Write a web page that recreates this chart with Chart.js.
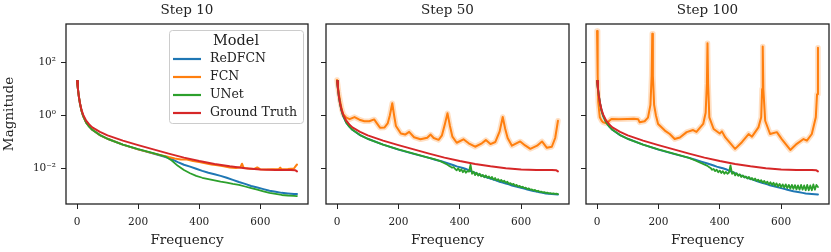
<!DOCTYPE html>
<html>
<head>
<meta charset="utf-8">
<script src="https://cdn.jsdelivr.net/npm/chart.js@4.4.0/dist/chart.umd.min.js"></script>
<style>
  body { margin: 0; background: #fff; }
  #wrap { position: relative; width: 831px; height: 252px; }
  canvas { position: absolute; top: 0; }
</style>
</head>
<body>
<div id="wrap">
  <canvas id="c10" width="310" height="252" style="left:0px"></canvas>
  <canvas id="c50" width="260" height="252" style="left:310px"></canvas>
  <canvas id="c100" width="261" height="252" style="left:570px"></canvas>
</div>
<script>
// values are log10(magnitude)

var models = ['ReDFCN', 'FCN', 'UNet', 'Ground Truth'];
var colors = ['#1f77b4', '#ff7f0e', '#2ca02c', '#d62728'];
var steps = ['Step 10', 'Step 50', 'Step 100'];
var xTicks = [0, 200, 400, 600];
var yTicks = [1e-2, 1, 1e2];
var yTickLabels = ['10\u207B\u00B2', '10\u2070', '10\u00B2'];

// ground truth, same in every panel
var gtFreq = [0, 3, 6, 10, 15, 20, 30, 40, 50, 75, 100, 150, 200, 250, 300, 350, 400, 450, 500, 550, 600, 650, 700, 715, 720];
var gtLog = [1.3, 1.0, 0.72, 0.45, 0.2, 0.03, -0.2, -0.34, -0.45, -0.62, -0.75, -0.95, -1.12, -1.28, -1.44, -1.59, -1.72, -1.83, -1.92, -1.99, -2.04, -2.06, -2.06, -2.07, -2.11];

// step 10
var freq10 = [0, 3, 6, 10, 15, 20, 30, 40, 50, 75, 100, 150, 200, 250, 290, 310, 330, 350, 370, 390, 410, 430, 450, 470, 490, 510, 530, 550, 570, 590, 610, 630, 650, 670, 690, 710, 720];
var redfcn10 = [1.3, 1.0, 0.72, 0.43, 0.17, -0.02, -0.27, -0.42, -0.54, -0.74, -0.88, -1.1, -1.28, -1.44, -1.57, -1.65, -1.76, -1.86, -1.93, -2.01, -2.09, -2.16, -2.22, -2.28, -2.35, -2.43, -2.51, -2.58, -2.66, -2.72, -2.78, -2.84, -2.88, -2.92, -2.94, -2.96, -2.96];
var unet10 = [1.3, 1.0, 0.72, 0.43, 0.17, -0.02, -0.27, -0.42, -0.54, -0.74, -0.88, -1.1, -1.27, -1.42, -1.55, -1.7, -1.9, -2.06, -2.18, -2.28, -2.35, -2.4, -2.45, -2.5, -2.53, -2.58, -2.62, -2.68, -2.74, -2.8, -2.86, -2.92, -2.96, -3.0, -3.02, -3.03, -3.04];
var fcn10Freq = [0, 3, 6, 10, 15, 20, 30, 40, 50, 75, 100, 150, 200, 250, 300, 320, 340, 360, 380, 400, 420, 440, 460, 480, 500, 520, 535, 540, 545, 560, 580, 590, 600, 620, 640, 660, 665, 670, 690, 710, 715, 720];
var fcn10 = [1.3, 1.0, 0.72, 0.43, 0.17, -0.02, -0.27, -0.42, -0.54, -0.74, -0.88, -1.1, -1.28, -1.43, -1.57, -1.62, -1.66, -1.66, -1.72, -1.76, -1.8, -1.85, -1.88, -1.92, -1.96, -1.98, -1.95, -1.82, -1.97, -2.0, -2.02, -1.96, -2.03, -2.04, -2.03, -2.03, -1.97, -2.03, -2.02, -2.0, -1.92, -1.85];

// ReDFCN grid for steps 50 and 100
var freqLate = [0, 3, 6, 10, 15, 20, 30, 40, 50, 75, 100, 150, 200, 250, 300, 320, 340,
  360, 370, 380, 390, 400, 410, 420, 430, 440, 450, 460, 470, 480, 490, 500, 510, 520, 530, 540, 550,
  560, 570, 580, 590, 600, 610, 620, 630, 640, 650, 660, 670, 680, 690, 700, 710, 720];

// UNet is noisy at high frequency, so it gets a finer grid
var freqNoisy = [0, 3, 6, 10, 15, 20, 30, 40, 50, 75, 100, 150, 200, 250, 300, 320, 340,
  360, 365, 370, 375, 380, 385, 390, 395, 400, 405, 410, 415, 420, 425, 430, 435, 440, 445, 450, 455,
  460, 465, 470, 475, 480, 485, 490, 495, 500, 505, 510, 515, 520, 525, 530, 535, 540, 545, 550, 555,
  560, 565, 570, 575, 580, 585, 590, 595, 600, 605, 610, 615, 620, 625, 630, 635, 640, 645, 650, 655,
  660, 665, 670, 675, 680, 685, 690, 695, 700, 705, 710, 715, 720];

// step 50
var redfcn50 = [1.3, 1.0, 0.72, 0.43, 0.17, -0.02, -0.27, -0.42, -0.54, -0.74, -0.88, -1.1, -1.29, -1.45, -1.6, -1.67, -1.73,
  -1.8, -1.84, -1.88, -1.92, -1.95, -1.98, -2.02, -2.07, -2.12, -2.17, -2.22, -2.26, -2.3, -2.34, -2.38, -2.42, -2.46, -2.5, -2.53, -2.57,
  -2.6, -2.64, -2.67, -2.7, -2.73, -2.76, -2.79, -2.82, -2.85, -2.87, -2.9, -2.92, -2.94, -2.95, -2.96, -2.97, -2.98];
var unet50 = [1.3, 1.0, 0.72, 0.43, 0.17, -0.02, -0.27, -0.42, -0.54, -0.74, -0.88, -1.1, -1.28, -1.44, -1.6, -1.66, -1.74,
  -1.86, -1.9, -1.93, -1.97, -1.95, -2.02, -2.07, -1.99, -2.1, -2.03, -2.14, -2.06, -2.16, -2.1, -2.12, -1.86, -2.2, -2.12, -2.25, -2.16,
  -2.27, -2.2, -2.3, -2.24, -2.33, -2.26, -2.35, -2.3, -2.38, -2.32, -2.42, -2.36, -2.45, -2.4, -2.48, -2.43, -2.5, -2.46, -2.54, -2.5,
  -2.58, -2.55, -2.61, -2.58, -2.65, -2.62, -2.68, -2.66, -2.71, -2.69, -2.74, -2.72, -2.78, -2.75, -2.8, -2.79, -2.83, -2.81, -2.86, -2.84,
  -2.88, -2.87, -2.9, -2.89, -2.92, -2.91, -2.94, -2.93, -2.95, -2.94, -2.96, -2.95, -2.97];
var fcn50Freq = [0, 5, 10, 15, 20, 30, 41, 57, 73, 89, 105, 121, 130, 140, 155, 165, 172, 180, 186, 192, 208, 222, 235, 251, 272, 294, 305, 315, 331, 342, 352, 360, 368, 376, 390, 412, 429, 450, 472, 485, 500, 516, 530, 540, 548, 556, 570, 597, 613, 630, 652, 668, 684, 700, 711, 720];
var fcn50 = [1.34, 0.9, 0.55, 0.25, 0.05, -0.08, -0.14, -0.06, -0.16, -0.22, -0.22, -0.15, -0.3, -0.46, -0.45, -0.3, 0.0, 0.46, 0.0, -0.4, -0.68, -0.72, -0.62, -0.82, -0.9, -0.84, -0.72, -0.85, -0.92, -0.75, -0.3, 0.08, -0.4, -0.8, -1.03, -0.9, -1.05, -1.18, -1.05, -0.93, -1.08, -1.0, -0.6, -0.06, -0.5, -0.85, -1.14, -0.98, -1.13, -1.26, -1.14, -0.98, -1.22, -1.18, -0.85, -0.2];

// step 100
var redfcn100 = [1.3, 1.0, 0.72, 0.43, 0.17, -0.02, -0.27, -0.42, -0.54, -0.74, -0.88, -1.1, -1.29, -1.45, -1.6, -1.67, -1.74,
  -1.81, -1.85, -1.89, -1.93, -1.96, -1.99, -2.03, -2.08, -2.13, -2.18, -2.23, -2.27, -2.31, -2.35, -2.39, -2.43, -2.47, -2.51, -2.55, -2.58,
  -2.62, -2.65, -2.68, -2.71, -2.74, -2.77, -2.8, -2.83, -2.86, -2.88, -2.9, -2.92, -2.94, -2.95, -2.96, -2.97, -2.98];
var unet100 = [1.3, 1.0, 0.72, 0.43, 0.17, -0.02, -0.27, -0.42, -0.54, -0.74, -0.88, -1.1, -1.28, -1.44, -1.6, -1.7, -1.8,
  -1.9, -1.95, -1.98, -2.05, -2.02, -2.1, -2.05, -2.14, -2.08, -2.17, -2.1, -2.2, -2.13, -2.2, -2.15, -1.88, -2.2, -2.14, -2.26, -2.18,
  -2.28, -2.22, -2.32, -2.26, -2.34, -2.3, -2.38, -2.32, -2.41, -2.36, -2.44, -2.38, -2.47, -2.42, -2.5, -2.44, -2.53, -2.47, -2.56, -2.5,
  -2.6, -2.52, -2.62, -2.54, -2.65, -2.56, -2.68, -2.58, -2.7, -2.6, -2.72, -2.6, -2.74, -2.62, -2.76, -2.62, -2.77, -2.63, -2.79, -2.64,
  -2.8, -2.62, -2.8, -2.64, -2.82, -2.62, -2.82, -2.64, -2.82, -2.6, -2.8, -2.62, -2.7];
var fcn100Freq = [0, 2, 4, 9, 15, 20, 31, 40, 47, 70, 100, 120, 134, 139, 155, 166, 174, 178, 180, 182, 186, 192, 199, 221, 237, 253, 270, 292, 313, 324, 346, 354, 358, 360, 362, 366, 380, 400, 407, 418, 450, 472, 494, 505, 526, 535, 538, 540, 542, 548, 564, 586, 602, 630, 651, 673, 684, 700, 713, 717, 720];
var fcn100 = [3.19, 1.5, 0.5, -0.07, -0.2, -0.26, -0.3, -0.2, -0.13, -0.14, -0.13, -0.12, -0.14, -0.26, -0.22, -0.08, 0.4, 1.5, 3.08, 1.5, 0.4, 0.0, -0.32, -0.57, -0.7, -0.89, -0.83, -0.63, -0.55, -0.62, -0.32, 0.1, 1.2, 2.72, 1.2, -0.07, -0.51, -0.68, -0.6, -0.83, -1.26, -1.01, -0.7, -0.8, -0.45, -0.07, 1.0, 2.6, 1.0, -0.2, -0.7, -0.63, -0.89, -1.3, -1.07, -0.89, -0.95, -0.7, -0.07, 0.8, 2.55];

var serif = 'DejaVu Serif';
var ink = '#222222';

Chart.defaults.font.family = serif;
Chart.defaults.color = ink;

function toPoints(xs, logs) {
  return xs.map(function (x, i) { return {x: x, y: Math.pow(10, logs[i])}; });
}

function makeDatasets(freq, redfcn, unetFreq, unet, fcnFreq, fcn, band) {
  // lower order is drawn on top: ground truth over UNet over FCN over ReDFCN
  var sets = [
    {label: models[3], data: toPoints(gtFreq, gtLog), borderColor: colors[3], order: 0},
    {label: models[2], data: toPoints(unetFreq, unet), borderColor: colors[2], order: 1, borderWidth: 1.8},
    {label: models[1], data: toPoints(fcnFreq, fcn), borderColor: colors[1], order: 2},
    {label: models[0], data: toPoints(freq, redfcn), borderColor: colors[0], order: 3}
  ];
  if (band) {
    sets.push({label: 'FCN spread', data: toPoints(fcnFreq, fcn), borderColor: 'rgba(255,127,14,0.25)', borderWidth: 5.5, order: 4});
  }
  return sets;
}

// spines all round plus the panel title
var framePlugin = {
  id: 'frame',
  afterDatasetsDraw: function (chart, args, opts) {
    var a = chart.chartArea;
    var ctx = chart.ctx;
    ctx.save();
    ctx.strokeStyle = ink;
    ctx.lineWidth = 1.3;
    ctx.strokeRect(a.left, a.top, a.right - a.left, a.bottom - a.top);
    ctx.fillStyle = ink;
    ctx.font = '13.5px "' + serif + '"';
    ctx.textAlign = 'center';
    ctx.textBaseline = 'middle';
    ctx.fillText(opts.title, (a.left + a.right) / 2, 10);
    ctx.restore();
  }
};

// legend with title, inside the first panel, upper right
var modelLegend = {
  id: 'modelLegend',
  afterDraw: function (chart) {
    var a = chart.chartArea;
    var ctx = chart.ctx;
    var left = a.right - 139, top = a.top + 6;
    ctx.save();
    ctx.fillStyle = 'rgba(255,255,255,0.85)';
    ctx.strokeStyle = '#cccccc';
    ctx.lineWidth = 1;
    ctx.beginPath();
    ctx.roundRect(left + 0.5, top + 0.5, 134, 93, 3);
    ctx.fill();
    ctx.stroke();
    ctx.fillStyle = ink;
    ctx.textBaseline = 'middle';
    ctx.textAlign = 'center';
    ctx.font = '14.5px "' + serif + '"';
    ctx.fillText('Model', left + 67, top + 11);
    ctx.textAlign = 'left';
    ctx.font = '12.5px "' + serif + '"';
    for (var i = 0; i < models.length; i++) {
      var ry = top + 29 + i * 18;
      ctx.strokeStyle = colors[i];
      ctx.lineWidth = 2.2;
      ctx.beginPath();
      ctx.moveTo(left + 4, ry);
      ctx.lineTo(left + 32, ry);
      ctx.stroke();
      ctx.fillText(models[i], left + 41, ry);
    }
    ctx.restore();
  }
};

function makeScales(first) {
  return {
    x: {
      type: 'linear',
      min: -36,
      max: 756,
      afterBuildTicks: function (s) { s.ticks = xTicks.map(function (v) { return {value: v}; }); },
      afterFit: function (s) { s.height = 48; },
      grid: {drawOnChartArea: false, tickLength: 5, color: ink, lineWidth: 1},
      border: {display: false},
      ticks: {font: {size: 10.5}, color: ink, padding: 7, maxRotation: 0},
      title: {display: true, text: 'Frequency', font: {size: 13.5}, color: ink, padding: {top: 0, bottom: 3}}
    },
    y: {
      type: 'logarithmic',
      min: Math.pow(10, -3.34),
      max: Math.pow(10, 3.45),
      afterBuildTicks: function (s) { s.ticks = yTicks.map(function (v) { return {value: v}; }); },
      afterFit: function (s) { s.width = first ? 66 : 16; },
      grid: {drawOnChartArea: false, tickLength: 5, color: ink, lineWidth: 1},
      border: {display: false},
      ticks: {
        display: first,
        font: {size: 10.5},
        color: ink,
        padding: 5,
        callback: function (v) { return yTickLabels[yTicks.indexOf(v)]; }
      },
      title: {display: first, text: 'Magnitude', font: {size: 13.5}, color: ink, padding: {top: 1, bottom: 0}}
    }
  };
}

function drawPanel(id, title, datasets, first, padRight) {
  var plugins = [framePlugin];
  if (first) plugins.push(modelLegend);
  return new Chart(document.getElementById(id), {
    type: 'line',
    data: {datasets: datasets},
    options: {
      responsive: false,
      animation: false,
      devicePixelRatio: 1,
      layout: {padding: {top: 24, right: padRight, bottom: 0, left: 0}},
      elements: {
        line: {borderWidth: 2, tension: 0, fill: false, borderJoinStyle: 'round', borderCapStyle: 'round'},
        point: {radius: 0, hoverRadius: 0}
      },
      plugins: {
        legend: {display: false},
        tooltip: {enabled: false},
        frame: {title: title}
      },
      scales: makeScales(first)
    },
    plugins: plugins
  });
}

drawPanel('c10', steps[0], makeDatasets(freq10, redfcn10, freq10, unet10, fcn10Freq, fcn10, false), true, 2);
drawPanel('c50', steps[1], makeDatasets(freqLate, redfcn50, freqNoisy, unet50, fcn50Freq, fcn50, true), false, 1);
drawPanel('c100', steps[2], makeDatasets(freqLate, redfcn100, freqNoisy, unet100, fcn100Freq, fcn100, true), false, 2);
</script>
</body>
</html>
